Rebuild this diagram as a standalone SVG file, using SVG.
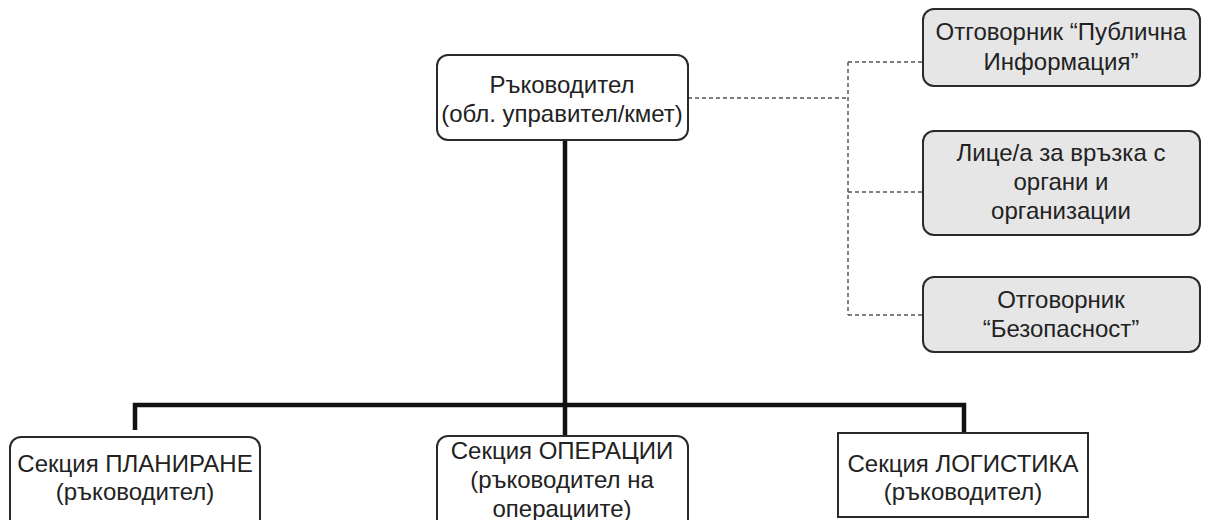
<svg xmlns="http://www.w3.org/2000/svg" width="1209" height="520" viewBox="0 0 1209 520">
<style>
.box{fill:#ffffff;stroke:#2a2a2a;stroke-width:2}
.side{fill:#e6e6e6;stroke:#2a2a2a;stroke-width:2}
.t{font-family:"Liberation Sans",Arial,sans-serif;font-size:24px;fill:#222222;text-anchor:middle}
.solid{fill:none;stroke:#111111;stroke-width:4.5;stroke-linejoin:miter}
.dash{fill:none;stroke:#555555;stroke-width:1.5;stroke-dasharray:4 3}
</style>
<rect width="1209" height="520" fill="#ffffff"/>
<g id="connectors">
<path class="solid" d="M565 140 V405"/>
<path class="solid" d="M135 430 V405 H964 V433"/>
<path class="solid" d="M565 405 V436"/>
<path class="dash" d="M688 98 H848"/>
<path class="dash" d="M848 62 V315"/>
<path class="dash" d="M848 62 H922"/>
<path class="dash" d="M848 192 H922"/>
<path class="dash" d="M848 315 H922"/>
</g>
<g id="node-head">
<rect class="box" x="437" y="55" width="251" height="85" rx="11"/>
<text class="t" x="562" y="93">Ръководител</text>
<text class="t" x="562" y="122">(обл. управител/кмет)</text>
</g>
<g id="node-public">
<rect class="side" x="923" y="9" width="277" height="77" rx="11"/>
<text class="t" x="1061" y="40">Отговорник “Публична</text>
<text class="t" x="1061" y="70">Информация”</text>
</g>
<g id="node-liaison">
<rect class="side" x="923" y="131" width="277" height="104" rx="11"/>
<text class="t" x="1061" y="161">Лице/а за връзка с</text>
<text class="t" x="1061" y="190">органи и</text>
<text class="t" x="1061" y="219">организации</text>
</g>
<g id="node-safety">
<rect class="side" x="923" y="277" width="277" height="75" rx="11"/>
<text class="t" x="1061" y="308">Отговорник</text>
<text class="t" x="1061" y="337">“Безопасност”</text>
</g>
<g id="node-planning">
<rect class="box" x="10" y="437" width="250" height="95" rx="11"/>
<text class="t" x="135" y="472">Секция ПЛАНИРАНЕ</text>
<text class="t" x="135" y="500">(ръководител)</text>
</g>
<g id="node-operations">
<rect class="box" x="437" y="436" width="251" height="96" rx="11"/>
<text class="t" x="562" y="459">Секция ОПЕРАЦИИ</text>
<text class="t" x="562" y="488">(ръководител на</text>
<text class="t" x="562" y="517">операциите)</text>
</g>
<g id="node-logistics">
<rect class="box" x="838" y="433" width="250" height="84"/>
<text class="t" x="963" y="472">Секция ЛОГИСТИКА</text>
<text class="t" x="963" y="500">(ръководител)</text>
</g>
</svg>
